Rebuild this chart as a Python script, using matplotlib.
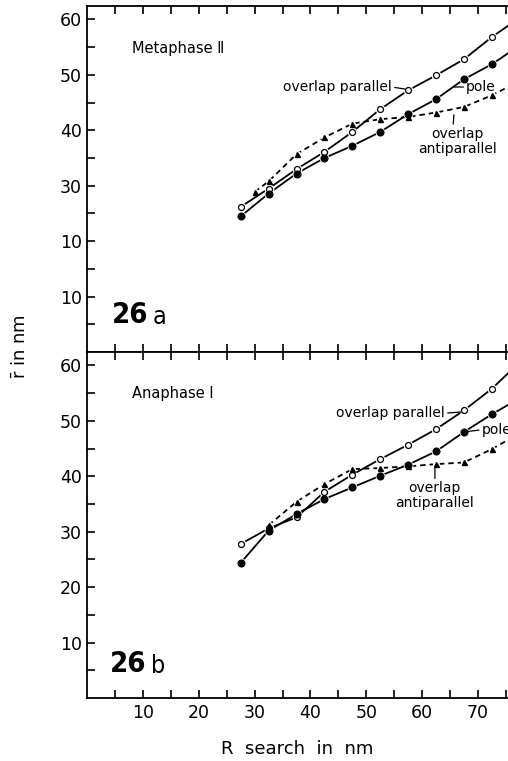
import numpy as np
import matplotlib
matplotlib.use("Agg")
import matplotlib.pyplot as plt

# R search values (nm) and mean r values
r_search = [27.5, 32.5, 37.5, 42.5, 47.5, 52.5, 57.5, 62.5, 67.5, 72.5, 77.5]

# 26a  Metaphase II
meta_parallel = [26.2, 29.5, 33.0, 36.1, 39.7, 43.8, 47.2, 49.9, 52.8, 56.8, 60.3]
meta_pole = [24.5, 28.6, 32.2, 35.0, 37.2, 39.7, 42.9, 45.6, 49.2, 51.9, 55.3]
meta_anti_x = [30.0, 32.5, 37.5, 42.5, 47.5, 52.5, 57.5, 62.5, 67.5, 72.5, 77.5]
meta_anti = [28.9, 30.8, 35.7, 38.7, 41.2, 42.0, 42.4, 43.2, 44.2, 46.3, 48.9]

# 26b  Anaphase I
ana_parallel = [27.8, 30.6, 32.6, 37.2, 40.3, 43.1, 45.7, 48.5, 51.9, 55.8, 60.6]
ana_pole = [24.4, 30.2, 33.2, 35.9, 38.0, 40.1, 42.1, 44.5, 48.0, 51.2, 54.1]
ana_anti_x = [32.5, 37.5, 42.5, 47.5, 52.5, 57.5, 62.5, 67.5, 72.5, 77.5]
ana_anti = [31.2, 35.4, 38.6, 41.3, 41.5, 41.8, 42.2, 42.5, 44.9, 47.8]

y_ticks = [5, 10, 15, 20, 25, 30, 35, 40, 45, 50, 55, 60]
x_ticks = [5, 10, 15, 20, 25, 30, 35, 40, 45, 50, 55, 60, 65, 70, 75]
top_ylabels = ['', '10', '', '10', '', '30', '', '40', '', '50', '', '60']  # as printed
bot_ylabels = ['', '10', '', '20', '', '30', '', '40', '', '50', '', '60']
x_labels = ['', '10', '', '20', '', '30', '', '40', '', '50', '', '60', '', '70', '']

plt.rcParams['font.family'] = ['DejaVu Sans']

fig = plt.figure(figsize=(5.08, 7.61), dpi=100)
ax_top = fig.add_axes([0.1719, 0.5372, 0.8281, 0.4549])
ax_bot = fig.add_axes([0.1719, 0.0828, 0.8281, 0.4544])


def draw_series(ax, parallel, pole, anti_x, anti):
    lw = 1.3
    ax.plot(r_search, parallel, color='black', lw=lw, zorder=2)
    ax.plot(r_search, pole, color='black', lw=lw, zorder=2)
    ax.plot(anti_x, anti, color='black', lw=lw, dashes=(3, 2.2), zorder=2)
    # little white halos so lines stop short of the symbols
    for xs, ys, ms in [(r_search, parallel, 7), (r_search, pole, 7), (anti_x, anti, 5)]:
        ax.plot(xs, ys, ls='none', marker='o', ms=ms, mfc='white', mec='none', zorder=3)
    ax.plot(r_search, parallel, ls='none', marker='o', ms=4.3, mfc='white',
            mec='black', mew=0.9, zorder=4)
    ax.plot(r_search, pole, ls='none', marker='o', ms=4.8, color='black', zorder=4)
    ax.plot(anti_x, anti, ls='none', marker='^', ms=3.6, color='black', zorder=4)


def style_axis(ax, ylabels, show_x):
    ax.set_xlim(0, 75.4)
    ax.set_ylim(0, 62.4)
    ax.spines['right'].set_visible(False)
    for s in ['left', 'top', 'bottom']:
        ax.spines[s].set_linewidth(1.3)
    ax.set_yticks(y_ticks)
    ax.set_yticklabels(ylabels)
    ax.set_xticks(x_ticks)
    ax.set_xticklabels(x_labels if show_x else [''] * len(x_ticks))
    ax.tick_params(axis='both', direction='in', length=6, width=1.2,
                   labelsize=12.5, pad=4)
    ax.tick_params(axis='x', top=True, bottom=True)
    ax.tick_params(axis='y', right=False)


def panel_tag(ax, x, y, letter):
    num = ax.text(x, y, '26', fontsize=21, fontweight='bold',
                  fontstretch='condensed', va='baseline')
    ax.annotate(letter, xy=(1, 0), xycoords=num, xytext=(3, 0),
                textcoords='offset points', fontsize=18, fontstretch='condensed',
                va='bottom', ha='left')


draw_series(ax_top, meta_parallel, meta_pole, meta_anti_x, meta_anti)
draw_series(ax_bot, ana_parallel, ana_pole, ana_anti_x, ana_anti)
style_axis(ax_top, top_ylabels, False)
style_axis(ax_bot, bot_ylabels, True)

lead = dict(arrowstyle='-', lw=0.9, color='black', shrinkA=0, shrinkB=0)

# panel a
ax_top.text(8.0, 54.8, 'Metaphase \u2161', fontsize=10.5, va='center')
ax_top.annotate('overlap parallel', xy=(57.1, 47.4), xytext=(54.6, 47.8),
                ha='right', va='center', fontsize=10,
                arrowprops=dict(lead, relpos=(1, 0.5)))
ax_top.annotate('pole', xy=(65.6, 47.8), xytext=(67.9, 47.8),
                ha='left', va='center', fontsize=10,
                arrowprops=dict(lead, relpos=(0, 0.5)))
ax_top.annotate('overlap\nantiparallel', xy=(65.7, 42.8), xytext=(66.4, 40.6),
                ha='center', va='top', fontsize=10, linespacing=1.05,
                arrowprops=dict(lead, relpos=(0.44, 1)))
panel_tag(ax_top, 4.4, 5.3, 'a')

# panel b
ax_bot.text(8.0, 54.9, 'Anaphase I', fontsize=10.5, va='center')
ax_bot.annotate('overlap parallel', xy=(67.0, 51.6), xytext=(64.1, 51.4),
                ha='right', va='center', fontsize=10,
                arrowprops=dict(lead, relpos=(1, 0.5)))
ax_bot.annotate('pole', xy=(68.2, 48.1), xytext=(70.7, 48.4),
                ha='left', va='center', fontsize=10,
                arrowprops=dict(lead, relpos=(0, 0.5)))
ax_bot.annotate('overlap\nantiparallel', xy=(62.3, 41.5), xytext=(62.3, 39.1),
                ha='center', va='top', fontsize=10, linespacing=1.05,
                arrowprops=dict(lead, relpos=(0.5, 1)))
panel_tag(ax_bot, 4.05, 4.7, 'b')

ax_bot.set_xlabel('R  search  in  nm', fontsize=13, labelpad=13)
fig.text(0.04, 1 - 347 / 761, r'$\bar{\mathrm{r}}$ in nm', rotation=90,
         fontsize=13, ha='center', va='center')

fig.savefig('out.png', dpi=100)
